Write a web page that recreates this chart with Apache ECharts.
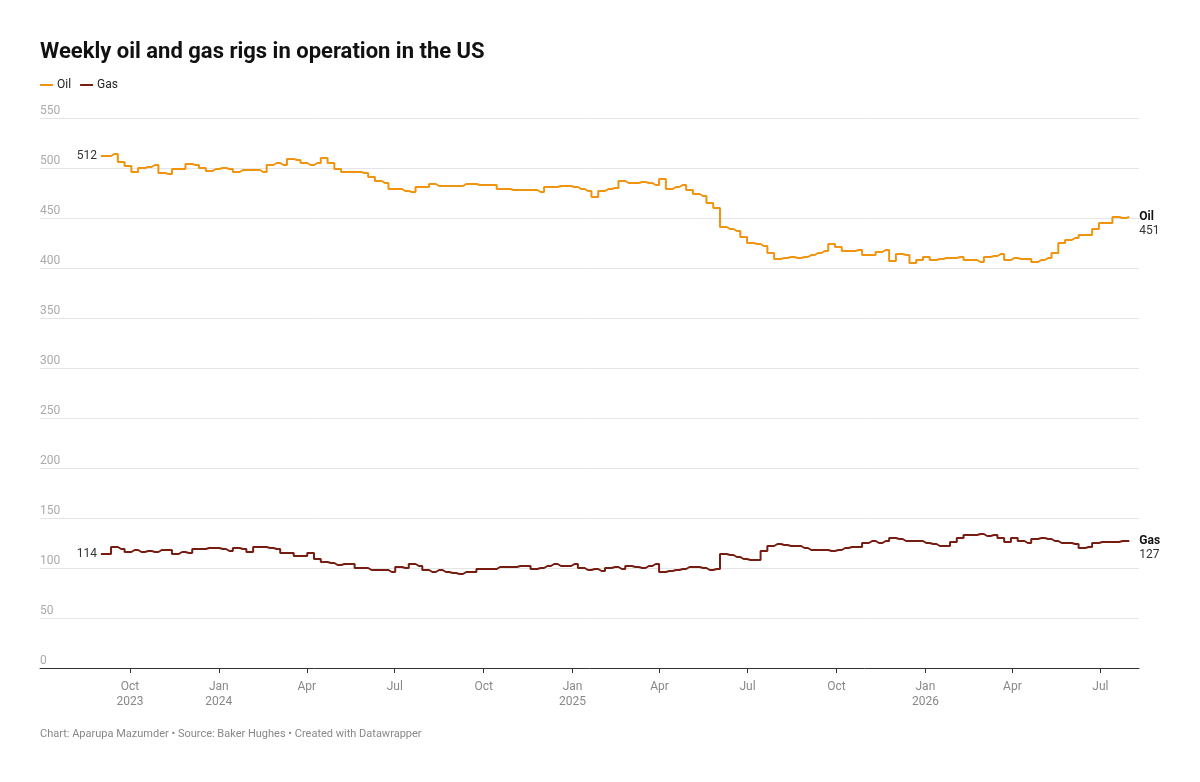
<!DOCTYPE html>
<html>
<head>
<meta charset="utf-8">
<title>Weekly oil and gas rigs in operation in the US</title>
<script src="https://cdn.jsdelivr.net/npm/echarts@6/dist/echarts.min.js"></script>
<style>
  html, body { margin: 0; padding: 0; background: #fff; }
  #chart { width: 1200px; height: 782px; }
</style>
</head>
<body>
<div id="chart"></div>
<script>
// weekly counts, first week 2023-09-01
const startDate = [2023, 8, 1];

const oil = [
  512, 512, 514, 506, 502, 496, 500, 501, 503, 495,
  494, 499, 499, 504, 503, 500, 497, 499, 500, 499,
  496, 498, 498, 498, 496, 503, 505, 503, 509, 508,
  505, 503, 505, 510, 505, 499, 496, 496, 496, 495,
  491, 487, 485, 479, 479, 477, 476, 481, 481, 484,
  482, 482, 482, 482, 484, 484, 483, 483, 483, 479,
  479, 478, 478, 478, 478, 476, 481, 481, 482, 482,
  481, 479, 477, 471, 477, 479, 480, 487, 485, 485,
  486, 485, 483, 489, 479, 481, 483, 478, 474, 472,
  465, 460, 441, 439, 437, 431, 425, 424, 422, 415,
  409, 410, 411, 410, 411, 413, 415, 417, 424, 421,
  417, 417, 418, 413, 413, 416, 418, 407, 414, 413,
  405, 408, 411, 408, 409, 410, 410, 411, 408, 408,
  406, 411, 412, 414, 408, 410, 409, 409, 406, 408,
  410, 415, 425, 428, 430, 433, 433, 439, 445, 445,
  451, 450, 451
];

const gas = [
  114, 114, 121, 119, 116, 118, 116, 117, 116, 118,
  118, 114, 116, 115, 119, 119, 120, 120, 119, 117,
  120, 119, 116, 121, 121, 120, 119, 115, 115, 112,
  112, 115, 109, 106, 105, 103, 104, 104, 100, 100,
  98, 98, 98, 96, 101, 100, 104, 102, 98, 96,
  98, 96, 95, 94, 96, 96, 99, 99, 99, 101,
  101, 101, 102, 102, 99, 100, 102, 104, 102, 102,
  104, 100, 98, 99, 97, 100, 101, 99, 102, 101,
  100, 102, 104, 96, 97, 98, 99, 101, 101, 100,
  98, 99, 114, 113, 111, 109, 108, 108, 117, 122,
  124, 123, 122, 122, 120, 118, 118, 118, 117, 118,
  120, 121, 121, 125, 127, 125, 127, 130, 129, 127,
  127, 127, 125, 124, 122, 122, 126, 130, 133, 133,
  134, 132, 133, 130, 126, 130, 127, 125, 129, 130,
  129, 127, 125, 125, 124, 120, 121, 125, 126, 126,
  126, 127, 127
];

// quarterly ticks on the x axis
const tickDates = [
  '2023-10-01', '2024-01-01', '2024-04-01', '2024-07-01',
  '2024-10-01', '2025-01-01', '2025-04-01', '2025-07-01',
  '2025-10-01', '2026-01-01', '2026-04-01', '2026-07-01'
];
const monthNames = ['Jan', 'Feb', 'Mar', 'Apr', 'May', 'Jun',
  'Jul', 'Aug', 'Sep', 'Oct', 'Nov', 'Dec'];

const oilColor = '#f0940f';
const gasColor = '#761c10';

function toTime(s) {
  const p = s.split('-');
  return new Date(+p[0], +p[1] - 1, +p[2]).getTime();
}

const weeks = oil.map(function (v, i) {
  return new Date(startDate[0], startDate[1], startDate[2] + 7 * i).getTime();
});
const ticks = tickDates.map(toTime);

function pairs(values) {
  return values.map(function (v, i) { return [weeks[i], v]; });
}

function endLabel(name, values) {
  return {
    show: true,
    distance: 10,
    offset: [0, 7],
    formatter: function () {
      return '{n|' + name + '}\n{v|' + values[values.length - 1] + '}';
    },
    rich: {
      n: { fontFamily: 'Roboto', fontSize: 12, fontWeight: 'bold', color: '#111', lineHeight: 14 },
      v: { fontFamily: 'Roboto', fontSize: 12, color: '#333', lineHeight: 14 }
    }
  };
}

function startMark(values) {
  return {
    symbol: 'circle',
    symbolSize: 0,
    silent: true,
    label: {
      show: true,
      position: 'left',
      distance: 4,
      formatter: '{c}',
      fontFamily: 'Roboto',
      fontSize: 12,
      color: '#333'
    },
    data: [{ coord: [weeks[0], values[0]], value: values[0] }]
  };
}

const chart = echarts.init(document.getElementById('chart'));

chart.setOption({
  animation: false,
  textStyle: { fontFamily: 'Roboto' },
  title: {
    text: 'Weekly oil and gas rigs in operation in the US',
    left: 40,
    top: 41,
    padding: 0,
    textStyle: { fontFamily: 'Roboto', fontSize: 22, fontWeight: 'bold', color: '#111' }
  },
  legend: {
    left: 35,
    top: 74,
    icon: 'rect',
    itemWidth: 13,
    itemHeight: 2,
    itemGap: 9,
    textStyle: { fontFamily: 'Roboto', fontSize: 12, color: '#222', padding: [0, 0, 0, -1] },
    data: ['Oil', 'Gas']
  },
  graphic: [{
    type: 'text',
    left: 40,
    top: 729,
    style: {
      text: 'Chart: Aparupa Mazumder \u2022 Source: Baker Hughes \u2022 Created with Datawrapper',
      fontFamily: 'Roboto',
      fontSize: 11,
      fill: '#888'
    }
  }],
  grid: {
    left: 40,
    right: 61,
    top: 118,
    bottom: 114
  },
  xAxis: {
    type: 'value',
    min: toTime('2023-06-30'),
    max: toTime('2026-08-10'),
    axisLine: { show: true, onZero: false, lineStyle: { color: '#333', width: 1 } },
    axisTick: {
      show: true,
      customValues: ticks,
      length: 5,
      lineStyle: { color: '#333' }
    },
    axisLabel: {
      customValues: ticks,
      color: '#888',
      fontSize: 12,
      lineHeight: 15,
      margin: 11,
      formatter: function (val) {
        const d = new Date(val);
        const m = d.getMonth();
        let s = monthNames[m];
        if (m === 0 || val === ticks[0]) s += '\n' + d.getFullYear();
        return s;
      }
    },
    splitLine: { show: false }
  },
  yAxis: {
    type: 'value',
    min: 0,
    max: 550,
    interval: 50,
    axisLine: { show: false },
    axisTick: { show: false },
    axisLabel: {
      inside: true,
      margin: 0,
      verticalAlign: 'bottom',
      padding: [0, 0, 1, 0],
      color: '#aaa',
      fontSize: 12
    },
    splitLine: { lineStyle: { color: '#e5e5e5', width: 1 } }
  },
  series: [
    {
      name: 'Oil',
      type: 'line',
      step: 'middle',
      showSymbol: false,
      color: oilColor,
      lineStyle: { width: 2, color: oilColor },
      data: pairs(oil),
      endLabel: endLabel('Oil', oil),
      markPoint: startMark(oil)
    },
    {
      name: 'Gas',
      type: 'line',
      step: 'middle',
      showSymbol: false,
      color: gasColor,
      lineStyle: { width: 2, color: gasColor },
      data: pairs(gas),
      endLabel: endLabel('Gas', gas),
      markPoint: startMark(gas)
    }
  ]
});
</script>
</body>
</html>
